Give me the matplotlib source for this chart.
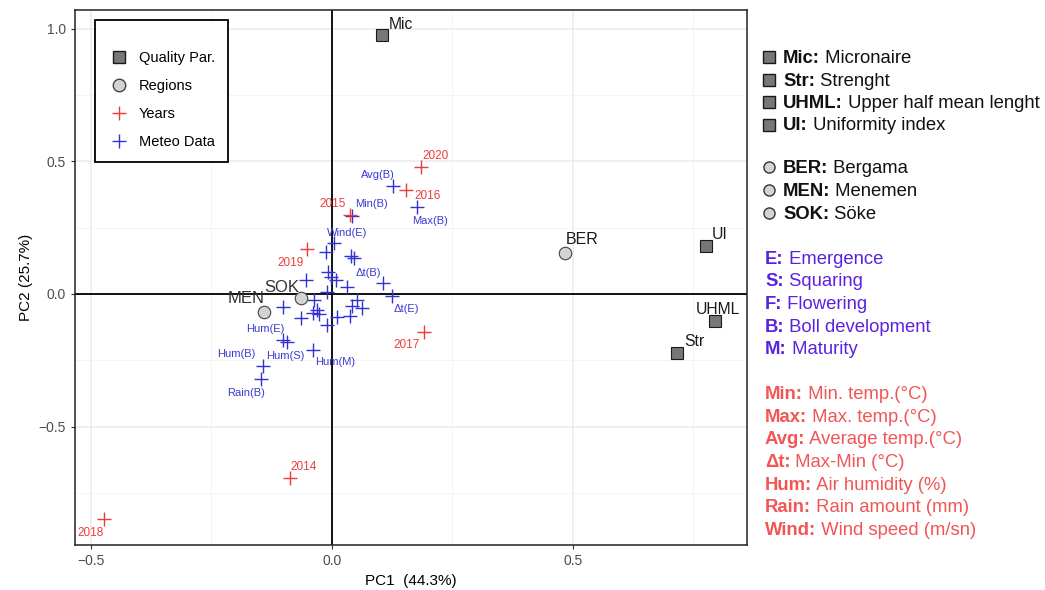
import matplotlib
matplotlib.use('Agg')
import matplotlib.pyplot as plt
from matplotlib.lines import Line2D
from matplotlib.ticker import MultipleLocator

plt.rcParams['font.family'] = ['Liberation Sans', 'DejaVu Sans']

# quality parameters (squares)
quality_names = ['Mic', 'UI', 'UHML', 'Str']
quality_pc1 = [0.104, 0.776, 0.795, 0.716]
quality_pc2 = [0.974, 0.181, -0.102, -0.223]

# regions (circles)
region_names = ['BER', 'SOK', 'MEN']
region_pc1 = [0.483, -0.064, -0.141]
region_pc2 = [0.155, -0.015, -0.068]

# years (red crosses)
year_names = ['2020', '2016', '2015', '2019', '2017', '2014', '2018']
year_pc1 = [0.185, 0.154, 0.037, -0.052, 0.191, -0.087, -0.473]
year_pc2 = [0.479, 0.392, 0.298, 0.170, -0.143, -0.694, -0.849]

# meteo data (blue crosses), unlabeled points have ''
meteo_names = ['Avg(B)', 'Max(B)', 'Min(B)', 'Wind(E)', '', '', '', '', '', '',
               '', '', 'Δt(B)', 'Δt(E)', '', '', '', '', '', '', '', '', '',
               '', '', '', '', 'Hum(E)', 'Hum(S)', 'Hum(M)', 'Hum(B)', 'Rain(B)']
meteo_pc1 = [0.127, 0.176, 0.041, 0.004, -0.012, 0.040, 0.046, -0.008, -0.002, 0.008,
             0.031, -0.054, 0.106, 0.124, -0.010, -0.037, 0.052, 0.041, 0.062, -0.102,
             -0.031, -0.027, -0.039, -0.064, 0.011, 0.037, -0.010, -0.101, -0.093,
             -0.039, -0.143, -0.147]
meteo_pc2 = [0.408, 0.328, 0.294, 0.193, 0.158, 0.142, 0.136, 0.083, 0.064, 0.053,
             0.027, 0.053, 0.041, -0.007, 0.008, -0.023, -0.023, -0.045, -0.053,
             -0.049, -0.060, -0.075, -0.072, -0.091, -0.087, -0.083, -0.117, -0.174,
             -0.180, -0.211, -0.270, -0.321]

# label offsets in pixels (dx right, dy up)
label_offsets = {
    'Mic': (19, 11), 'UI': (14, 11), 'UHML': (3, 12), 'Str': (17, 12),
    'BER': (17, 13), 'SOK': (-19, 10), 'MEN': (-18, 13),
    '2020': (14, 11), '2016': (21, -6), '2015': (-17, 11), '2019': (-16, -14),
    '2017': (-17, -13), '2014': (14, 11), '2018': (-13, -14),
    'Avg(B)': (-15, 11), 'Max(B)': (13, -14), 'Min(B)': (20, 12), 'Wind(E)': (13, 10),
    'Δt(B)': (-15, 10), 'Δt(E)': (15, -13), 'Hum(E)': (-18, 11), 'Hum(S)': (-2, -14),
    'Hum(M)': (22, -12), 'Hum(B)': (-27, 12), 'Rain(B)': (-15, -14),
}

RED = '#ee3b3b'
BLUE = '#3232d2'
W, H = 1045, 590

fig = plt.figure(figsize=(W / 100, H / 100), dpi=100)
ax = fig.add_axes([75 / W, 1 - 545 / H, 672 / W, 535 / H])
ax.set_xlim(-0.533, 0.861)
ax.set_ylim(-0.946, 1.070)

ax.xaxis.set_major_locator(MultipleLocator(0.5))
ax.yaxis.set_major_locator(MultipleLocator(0.5))
ax.xaxis.set_minor_locator(MultipleLocator(0.25))
ax.yaxis.set_minor_locator(MultipleLocator(0.25))
ax.grid(True, which='major', color='#ebebeb', lw=1.1)
ax.grid(True, which='minor', color='#f2f2f2', lw=0.6)
ax.set_axisbelow(True)
ax.tick_params(which='minor', length=0)
ax.tick_params(which='major', length=3, color='#333333', labelsize=10, labelcolor='#4d4d4d')
for s in ax.spines.values():
    s.set_color('#222222')
    s.set_linewidth(1.1)

ax.axhline(0, color='black', lw=1.3, zorder=1)
ax.axvline(0, color='black', lw=1.3, zorder=1)


def label(name, x, y, color, size):
    if not name:
        return
    dx, dy = label_offsets[name]
    ax.annotate(name, (x, y), xytext=(dx * 0.72, dy * 0.72), textcoords='offset points',
                ha='center', va='center', color=color, fontsize=size, zorder=5)


ax.plot(meteo_pc1, meteo_pc2, '+', color=BLUE, markersize=10, mew=1.0, zorder=3)
for n, x, y in zip(meteo_names, meteo_pc1, meteo_pc2):
    label(n, x, y, '#3a3ad0', 8)

ax.plot(year_pc1, year_pc2, '+', color=RED, markersize=10, mew=1.0, zorder=3)
for n, x, y in zip(year_names, year_pc1, year_pc2):
    label(n, x, y, RED, 8.5)

ax.plot(region_pc1, region_pc2, 'o', mfc='#d3d3d3', mec='#444444', markersize=9, mew=0.8, zorder=4)
for n, x, y in zip(region_names, region_pc1, region_pc2):
    if n == 'BER':
        label(n, x, y, '#1a1a1a', 11.5)
    else:
        label(n, x, y, '#333333', 12)

ax.plot(quality_pc1, quality_pc2, 's', mfc='#777777', mec='#1a1a1a', markersize=8.5, mew=0.8, zorder=4)
for n, x, y in zip(quality_names, quality_pc1, quality_pc2):
    label(n, x, y, '#1a1a1a', 11.3)

ax.set_xlabel('PC1  (44.3%)', fontsize=11)
ax.set_ylabel('PC2 (25.7%)', fontsize=11)

handles = [
    Line2D([], [], marker='s', ls='none', mfc='#777777', mec='#1a1a1a', markersize=8.5),
    Line2D([], [], marker='o', ls='none', mfc='#d3d3d3', mec='#444444', markersize=9),
    Line2D([], [], marker='+', ls='none', color=RED, markersize=10),
    Line2D([], [], marker='+', ls='none', color=BLUE, markersize=10),
]
leg = ax.legend(handles, ['Quality Par.', 'Regions', 'Years', 'Meteo Data'],
                loc='upper left', bbox_to_anchor=(0.03, 0.981), borderaxespad=0,
                title=' ', title_fontsize=2,
                fontsize=10.5, fancybox=False, edgecolor='black', framealpha=1,
                labelspacing=0.95, borderpad=0.9, handletextpad=0.6, handlelength=1.5)
leg.get_frame().set_linewidth(1.3)

# right-side key
fig.canvas.draw()
renderer = fig.canvas.get_renderer()


def side_item(ypx, key, desc, color, xpx, marker=None):
    yf = 1 - ypx / H
    if marker == 's':
        fig.add_artist(Line2D([769 / W], [yf], marker='s', ls='none', mfc='#777777',
                              mec='#1a1a1a', markersize=8.5, transform=fig.transFigure))
    elif marker == 'o':
        fig.add_artist(Line2D([769 / W], [yf], marker='o', ls='none', mfc='#d3d3d3',
                              mec='#333333', markersize=8, transform=fig.transFigure))
    yb = 1 - (ypx + 6) / H
    t = fig.text(xpx / W, yb, key + ':', fontweight='bold', color=color, fontsize=13.3,
                 va='baseline')
    w = t.get_window_extent(renderer).width
    fig.text((xpx + w) / W, yb, ' ' + desc, color=color, fontsize=13.3, va='baseline')


quality_keys = [('Mic', 'Micronaire'), ('Str', 'Strenght'),
                ('UHML', 'Upper half mean lenght'), ('UI', 'Uniformity index')]
region_keys = [('BER', 'Bergama'), ('MEN', 'Menemen'), ('SOK', 'Söke')]
stage_keys = [('E', 'Emergence'), ('S', 'Squaring'), ('F', 'Flowering'),
              ('B', 'Boll development'), ('M', 'Maturity')]
var_keys = [('Min', 'Min. temp.(°C)'), ('Max', 'Max. temp.(°C)'),
            ('Avg', 'Average temp.(°C)'), ('Δt', 'Max-Min (°C)'),
            ('Hum', 'Air humidity (%)'), ('Rain', 'Rain amount (mm)'),
            ('Wind', 'Wind speed (m/sn)')]

for i, (k, d) in enumerate(quality_keys):
    side_item(57 + i * 22.5, k, d, '#111111', 783, 's')
for i, (k, d) in enumerate(region_keys):
    side_item(167 + i * 23, k, d, '#111111', 783, 'o')
for i, (k, d) in enumerate(stage_keys):
    side_item(258 + i * 22.5, k, d, '#5a22e0', 765)
for i, (k, d) in enumerate(var_keys):
    side_item(393 + i * 22.7, k, d, '#f25555', 765)

fig.savefig('out.png', dpi=100)
